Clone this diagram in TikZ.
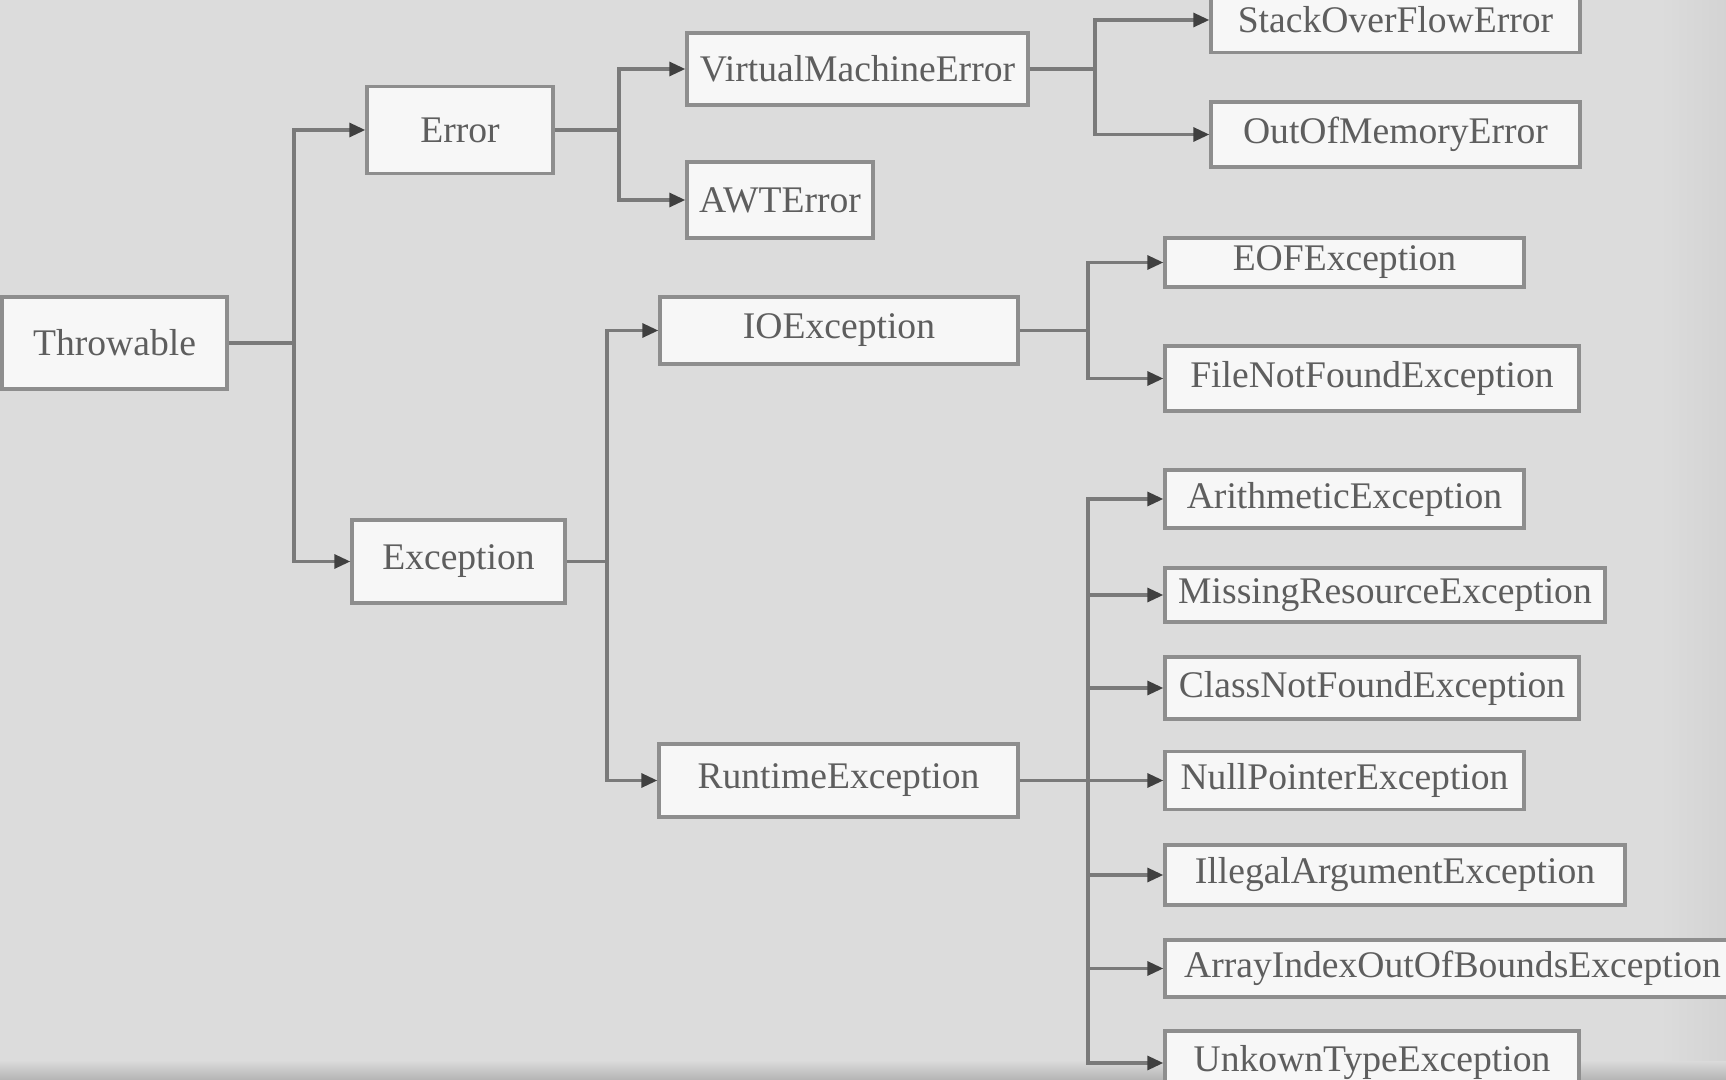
\documentclass[tikz,border=0pt]{standalone}
\usepackage{fontspec}
\setmainfont{Liberation Serif}
\usetikzlibrary{arrows.meta}
\definecolor{bgc}{HTML}{DCDCDC}
\definecolor{boxc}{HTML}{8E8E8E}
\definecolor{boxfill}{HTML}{F7F7F7}
\definecolor{txtc}{HTML}{5E5E5E}
\definecolor{linec}{HTML}{7A7A7A}
\definecolor{arrc}{HTML}{404040}
\begin{document}
\begin{tikzpicture}[x=0.5pt,y=-0.5pt,
  box/.style={draw=boxc, line width=1.7pt, fill=boxfill, text=txtc, inner sep=0pt,
    font=\fontsize{18.8pt}{22pt}\selectfont, anchor=center},
  conn/.style={draw=linec, line width=1.6pt},
  arr/.style={conn, -{Triangle[length=8pt,width=7pt,color=arrc]}}]
\useasboundingbox (0,0) rectangle (1726,1080);
\fill[bgc] (0,0) rectangle (1726,1080);
\shade[top color=bgc, bottom color=bgc!82!black] (0,1060) rectangle (1726,1080);
\shade[left color=bgc, right color=bgc!96!black] (1660,0) rectangle (1726,1060);

% nodes
\node[box, minimum width=112.5pt, minimum height=46pt] (thr) at (114.5,343) {Throwable};
\node[box, minimum width=93pt, minimum height=43.5pt] (err) at (460,130) {Error};
\node[box, minimum width=106.5pt, minimum height=41.5pt] (exc) at (458.5,561.5) {Exception};
\node[box, minimum width=170.5pt, minimum height=36pt] (vme) at (857.5,69) {VirtualMachineError};
\node[box, minimum width=93pt, minimum height=38pt] (awt) at (780,200) {AWTError};
\node[box, minimum width=184.5pt, minimum height=32.5pt] (sof) at (1395.5,20) {StackOverFlowError};
\node[box, minimum width=184.5pt, minimum height=32.5pt] (oom) at (1395.5,134.5) {OutOfMemoryError};
\node[box, minimum width=179pt, minimum height=33.5pt] (io) at (839,330.5) {IOException};
\node[box, minimum width=179.5pt, minimum height=36.5pt] (rt) at (838.5,780.5) {RuntimeException};
\node[box, minimum width=179.5pt, minimum height=24.5pt] (eof) at (1344.5,262.5) {EOFException};
\node[box, minimum width=207pt, minimum height=32.5pt] (fnf) at (1372,378.5) {FileNotFoundException};
\node[box, minimum width=179.5pt, minimum height=29pt] (ari) at (1344.5,499) {ArithmeticException};
\node[box, minimum width=220pt, minimum height=27pt] (mis) at (1385,595) {MissingResourceException};
\node[box, minimum width=207pt, minimum height=31pt] (cnf) at (1372,688) {ClassNotFoundException};
\node[box, minimum width=179.5pt, minimum height=29pt] (npe) at (1344.5,780.5) {NullPointerException};
\node[box, minimum width=230pt, minimum height=30pt] (iae) at (1395,875) {IllegalArgumentException};
\node[box, minimum width=287.5pt, minimum height=28.5pt] (aio) at (1452.5,968.5) {ArrayIndexOutOfBoundsException};
\node[box, minimum width=207pt, minimum height=32pt] (ute) at (1372,1063) {UnkownTypeException};

% branch points
\coordinate (b1) at (294,343);
\coordinate (b2) at (619,130);
\coordinate (b3) at (1095,69);
\coordinate (b4) at (607,561.5);
\coordinate (b5) at (1088,330.5);
\coordinate (b6) at (1088,780.5);

% connectors
\draw[conn] (thr.east) -- (b1);
\draw[arr] (b1) |- (err.west);
\draw[arr] (b1) |- (exc.west);

\draw[conn] (err.east) -- (b2);
\draw[arr] (b2) |- (vme.west);
\draw[arr] (b2) |- (awt.west);

\draw[conn] (vme.east) -- (b3);
\draw[arr] (b3) |- (sof.west);
\draw[arr] (b3) |- (oom.west);

\draw[conn] (exc.east) -- (b4);
\draw[arr] (b4) |- (io.west);
\draw[arr] (b4) |- (rt.west);

\draw[conn] (io.east) -- (b5);
\draw[arr] (b5) |- (eof.west);
\draw[arr] (b5) |- (fnf.west);

\draw[conn] (rt.east) -- (b6);
\draw[arr] (b6) |- (ari.west);
\draw[arr] (b6) |- (mis.west);
\draw[arr] (b6) |- (cnf.west);
\draw[arr] (b6) -- (npe.west);
\draw[arr] (b6) |- (iae.west);
\draw[arr] (b6) |- (aio.west);
\draw[arr] (b6) |- (ute.west);
\end{tikzpicture}
\end{document}
